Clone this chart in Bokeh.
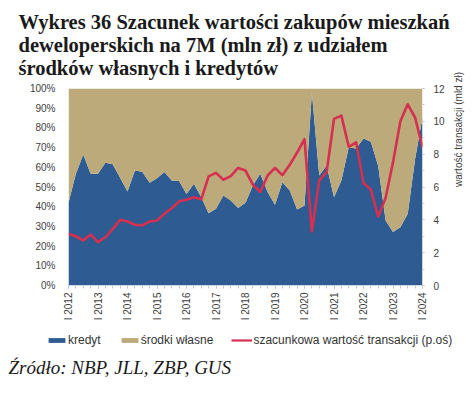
import math
from bokeh.plotting import figure
from bokeh.layouts import column
from bokeh.models import (ColumnDataSource, Range1d, LinearAxis, FixedTicker,
                          Title, Legend, LegendItem, PrintfTickFormatter, Label)
from bokeh.embed import file_html
from bokeh.resources import INLINE

# ---- data (quarterly, I 2012 .. I 2024) ----
years = list(range(2012, 2025))
tick_labels = [f"I {y}" for y in years]

# share of mortgage credit in purchases (%)
kredyt = [42.0, 56.7, 66.5, 56.7,
          56.7, 62.3, 61.5, 54.7,
          47.7, 58.4, 57.7, 52.1,
          54.5, 57.6, 53.3, 53.0,
          46.5, 51.6, 44.8, 36.7,
          38.9, 45.7, 43.1, 39.3,
          42.0, 50.8, 56.7, 47.4,
          41.0, 52.4, 48.2, 38.6,
          40.6, 97.8, 55.8, 60.9,
          44.8, 53.3, 70.0, 69.5,
          74.6, 73.0, 60.5, 33.0,
          27.1, 29.6, 36.4, 64.3,
          85.4]

# estimated transaction value (bn PLN, right axis)
wartosc = [3.15, 3.0, 2.74, 3.1,
           2.64, 2.94, 3.45, 4.0,
           3.9, 3.7, 3.66, 3.9,
           3.96, 4.37, 4.71, 5.12,
           5.22, 5.38, 5.25, 6.65,
           6.86, 6.44, 6.66, 7.16,
           7.0, 6.15, 5.7, 6.7,
           7.16, 6.72, 7.35, 8.1,
           8.92, 3.3, 6.4, 6.9,
           10.15, 10.35, 8.45, 8.72,
           6.24, 5.84, 4.2, 5.35,
           7.5, 10.0, 11.04, 10.22,
           8.42]

title_lines = ["Wykres 36 Szacunek wartości zakupów mieszkań",
               "deweloperskich na 7M (mln zł) z udziałem",
               "środków własnych i kredytów"]
series_names = ["kredyt", "środki własne", "szacunkowa wartość transakcji (p.oś)"]

srodki_wlasne = [100 - k for k in kredyt]
x = list(range(len(kredyt)))

src = ColumnDataSource(dict(x=x, kredyt=kredyt,
                            total=[k + s for k, s in zip(kredyt, srodki_wlasne)],
                            wartosc=wartosc))

BLUE = "#2E5B92"
KHAKI = "#BDAA7B"
RED = "#D5304F"
TXT = "#404040"

p = figure(width=474, height=325,
           x_range=Range1d(0, len(x) - 1), y_range=Range1d(0, 100),
           output_backend="svg", toolbar_location=None, title=None,
           min_border_left=68, min_border_right=52,
           min_border_top=0, min_border_bottom=40)
p.outline_line_color = None
p.xgrid.visible = False
p.ygrid.visible = False
p.background_fill_color = "white"
p.border_fill_color = "white"

p.extra_y_ranges = {"val": Range1d(0, 12)}

p.varea(x="x", y1=0, y2="kredyt", source=src, fill_color=BLUE)
p.varea(x="x", y1="kredyt", y2="total", source=src, fill_color=KHAKI)
p.line(x="x", y="wartosc", source=src, y_range_name="val",
       line_color=RED, line_width=2.6, line_join="round")

# left axis
ya = p.yaxis[0]
ya.ticker = FixedTicker(ticks=list(range(0, 101, 10)))
ya.formatter = PrintfTickFormatter(format="%d%%")
ya.axis_line_color = None
ya.major_tick_line_color = None
ya.major_tick_in = 0
ya.major_tick_out = 0
ya.minor_tick_line_color = None
ya.major_label_standoff = 13
ya.major_label_text_font = "Liberation Sans"
ya.major_label_text_font_size = "10px"
ya.major_label_text_color = TXT

# right axis
ra = LinearAxis(y_range_name="val",
                ticker=FixedTicker(ticks=list(range(0, 13, 2)), minor_ticks=list(range(13))),
                axis_label="wartość transakcji (mld zł)")
ra.axis_line_color = None
ra.major_tick_line_color = "#c8c8c8"
ra.major_tick_in = 0
ra.major_tick_out = 2
ra.minor_tick_line_color = "#c8c8c8"
ra.minor_tick_in = 0
ra.minor_tick_out = 2
ra.major_label_standoff = 9
ra.major_label_text_font = "Liberation Sans"
ra.major_label_text_font_size = "10px"
ra.major_label_text_color = TXT
ra.axis_label_text_font = "Liberation Sans"
ra.axis_label_text_font_size = "10px"
ra.axis_label_text_font_style = "normal"
ra.axis_label_text_color = TXT
ra.axis_label_standoff = 11
ra.axis_label_orientation = math.pi / 2
p.add_layout(ra, "right")

# x axis
xa = p.xaxis[0]
xa.ticker = FixedTicker(ticks=list(range(0, len(x), 4)), minor_ticks=list(range(len(x))))
xa.major_label_overrides = {i * 4: lab for i, lab in enumerate(tick_labels)}
xa.major_label_orientation = math.pi / 2
xa.axis_line_color = None
xa.major_tick_line_color = "#c8c8c8"
xa.major_tick_in = 0
xa.major_tick_out = 3
xa.minor_tick_line_color = "#c8c8c8"
xa.minor_tick_in = 0
xa.minor_tick_out = 3
xa.major_label_standoff = 4
xa.major_label_text_font = "Liberation Sans"
xa.major_label_text_font_size = "10px"
xa.major_label_text_color = TXT

# multi-line title
t = Title(text="\n".join(title_lines), align="left", offset=-50,
          text_font="Liberation Serif", text_font_style="bold",
          text_font_size="20.5px", text_color="#1a1a1a",
          text_line_height=1.05, standoff=18)
p.add_layout(t, "above")

# ---- strip below: legend and source note ----
q = figure(width=474, height=74, x_range=Range1d(0, 1), y_range=Range1d(0, 1),
           output_backend="svg", toolbar_location=None, title=None,
           x_axis_location=None, y_axis_location=None,
           min_border_left=0, min_border_right=0, min_border_top=0, min_border_bottom=0)
q.frame_align = False
q.outline_line_color = None
q.xgrid.visible = False
q.ygrid.visible = False
q.background_fill_color = "white"
q.border_fill_color = "white"

# legend entries: the same series, hidden here, only their styles are shown
lk = q.varea(x="x", y1=0, y2="kredyt", source=src, fill_color=BLUE, visible=False)
ls = q.varea(x="x", y1="kredyt", y2="total", source=src, fill_color=KHAKI, visible=False)
lw = q.line(x="x", y="wartosc", source=src, line_color=RED, line_width=2.2, visible=False)

legend = Legend(items=[LegendItem(label=series_names[0], renderers=[lk]),
                       LegendItem(label=series_names[1], renderers=[ls]),
                       LegendItem(label=series_names[2], renderers=[lw])],
                orientation="horizontal", location=(46, 52),
                border_line_color=None, background_fill_alpha=0,
                inactive_fill_alpha=0,
                label_text_font="Liberation Sans", label_text_font_size="12px",
                label_text_color="#333333",
                glyph_width=21, glyph_height=6, label_standoff=1,
                spacing=18, padding=0, margin=0, label_height=12)
q.add_layout(legend)

note = Label(x=8, y=32, x_units="screen", y_units="screen",
             text="Źródło: NBP, JLL, ZBP, GUS",
             text_font="Liberation Serif", text_font_style="italic",
             text_font_size="19px", text_color="#1a1a1a",
             text_baseline="middle", text_align="left")
q.add_layout(note)

layout = column(p, q, spacing=0)
open("out.html", "w").write(file_html(layout, INLINE, "Wykres 36"))
